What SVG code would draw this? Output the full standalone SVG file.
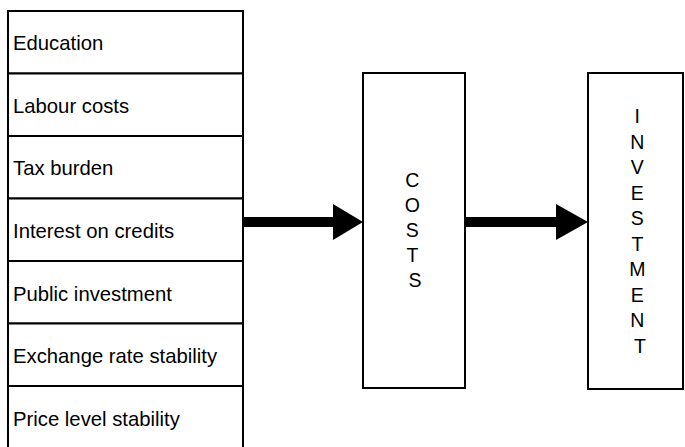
<svg xmlns="http://www.w3.org/2000/svg" width="685" height="447" viewBox="0 0 685 447">
  <style>
    .box { fill: #fff; stroke: #000; stroke-width: 2; }
    .lbl { font-family: "Liberation Sans", Arial, sans-serif; font-size: 20.3px; fill: #000; }
    .vert { font-family: "Liberation Sans", Arial, sans-serif; font-size: 19.5px; fill: #000; text-anchor: middle; }
    .shaft { fill: #000; }
  </style>
  <rect width="685" height="447" fill="#fff"/>

  <g id="factors">
    <g id="education"><rect class="box" x="8" y="11" width="235" height="62.5"/><text class="lbl" x="13" y="50">Education</text></g>
    <g id="labour-costs"><rect class="box" x="8" y="73.5" width="235" height="62.5"/><text class="lbl" x="13" y="113">Labour costs</text></g>
    <g id="tax-burden"><rect class="box" x="8" y="136" width="235" height="62.5"/><text class="lbl" x="13" y="175">Tax burden</text></g>
    <g id="interest"><rect class="box" x="8" y="198.5" width="235" height="62.5"/><text class="lbl" x="13" y="238">Interest on credits</text></g>
    <g id="public-investment"><rect class="box" x="8" y="261" width="235" height="62.5"/><text class="lbl" x="13" y="301">Public investment</text></g>
    <g id="exchange-rate"><rect class="box" x="8" y="323.5" width="235" height="62.5"/><text class="lbl" x="13" y="363">Exchange rate stability</text></g>
    <g id="price-level"><rect class="box" x="8" y="386" width="235" height="64"/><text class="lbl" x="13" y="426">Price level stability</text></g>
  </g>

  <g id="costs">
    <rect class="box" x="363" y="73" width="102" height="315"/>
    <text class="vert">
      <tspan x="415" y="187">C</tspan>
      <tspan x="415" y="212">O</tspan>
      <tspan x="415" y="237">S</tspan>
      <tspan x="415" y="262">T</tspan>
      <tspan x="415" y="287">S</tspan>
    </text>
  </g>

  <g id="investment">
    <rect class="box" x="588" y="73" width="95" height="316"/>
    <text class="vert">
      <tspan x="640" y="123">I</tspan>
      <tspan x="640" y="149">N</tspan>
      <tspan x="640" y="174">V</tspan>
      <tspan x="640" y="200">E</tspan>
      <tspan x="640" y="225">S</tspan>
      <tspan x="640" y="251">T</tspan>
      <tspan x="640" y="276">M</tspan>
      <tspan x="640" y="302">E</tspan>
      <tspan x="640" y="327">N</tspan>
      <tspan x="640" y="353">T</tspan>
    </text>
  </g>

  <g id="connectors">
    <path class="shaft" d="M244 217 H333 V204 L363 222 L333 240 V227 H244 Z"/>
    <path class="shaft" d="M466 217 H556 V204 L588 222 L556 240 V227 H466 Z"/>
  </g>
</svg>
